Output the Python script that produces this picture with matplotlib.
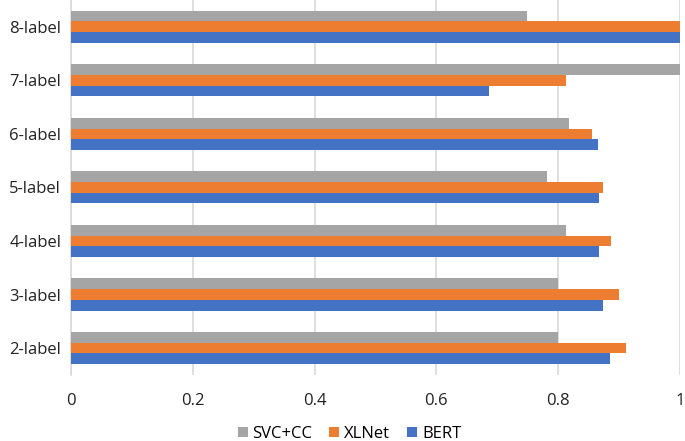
import matplotlib.pyplot as plt
import numpy as np

categories = ["2-label", "3-label", "4-label", "5-label", "6-label", "7-label", "8-label"]
svc_cc = [0.800, 0.799, 0.812, 0.781, 0.817, 1.000, 0.748]
xlnet = [0.911, 0.900, 0.887, 0.874, 0.856, 0.812, 1.000]
bert = [0.885, 0.874, 0.867, 0.867, 0.865, 0.686, 1.000]
x_ticks = [0, 0.2, 0.4, 0.6, 0.8, 1.0]
x_tick_labels = ["0", "0.2", "0.4", "0.6", "0.8", "1"]

plt.rcParams["font.family"] = ["Open Sans", "DejaVu Sans"]

fig = plt.figure(figsize=(6.85, 4.41), dpi=100)
ax = fig.add_axes([0.1036, 0.150, 0.8891, 0.850])

y = np.arange(len(categories))
h = 0.2
ax.barh(y + h, svc_cc, height=h, color="#A5A5A5", label="SVC+CC", zorder=3)
ax.barh(y, xlnet, height=h, color="#ED7D31", label="XLNet", zorder=3)
ax.barh(y - h, bert, height=h, color="#4472C4", label="BERT", zorder=3)

ax.set_xlim(0, 1)
ax.set_ylim(-0.5, len(categories) - 0.5)
ax.set_xticks(x_ticks)
ax.set_xticklabels(x_tick_labels)
ax.set_yticks(y)
ax.set_yticklabels(categories)
ax.tick_params(axis="x", length=0, pad=13, labelsize=12, colors="#222222")
ax.tick_params(axis="y", length=0, pad=7, labelsize=12, colors="#222222")
ax.grid(axis="x", color="#D9D9D9", linewidth=1.2, zorder=0)

for side in ["top", "right", "bottom"]:
    ax.spines[side].set_visible(False)
ax.spines["left"].set_color("#D9D9D9")
ax.spines["left"].set_linewidth(1.2)

fig.legend(loc="center", bbox_to_anchor=(0.51, 0.016), ncol=3, frameon=False,
           fontsize=12, handlelength=0.6, handleheight=0.6, handletextpad=0.3,
           columnspacing=1.0)

fig.savefig("out.png", dpi=100)
plt.close(fig)
